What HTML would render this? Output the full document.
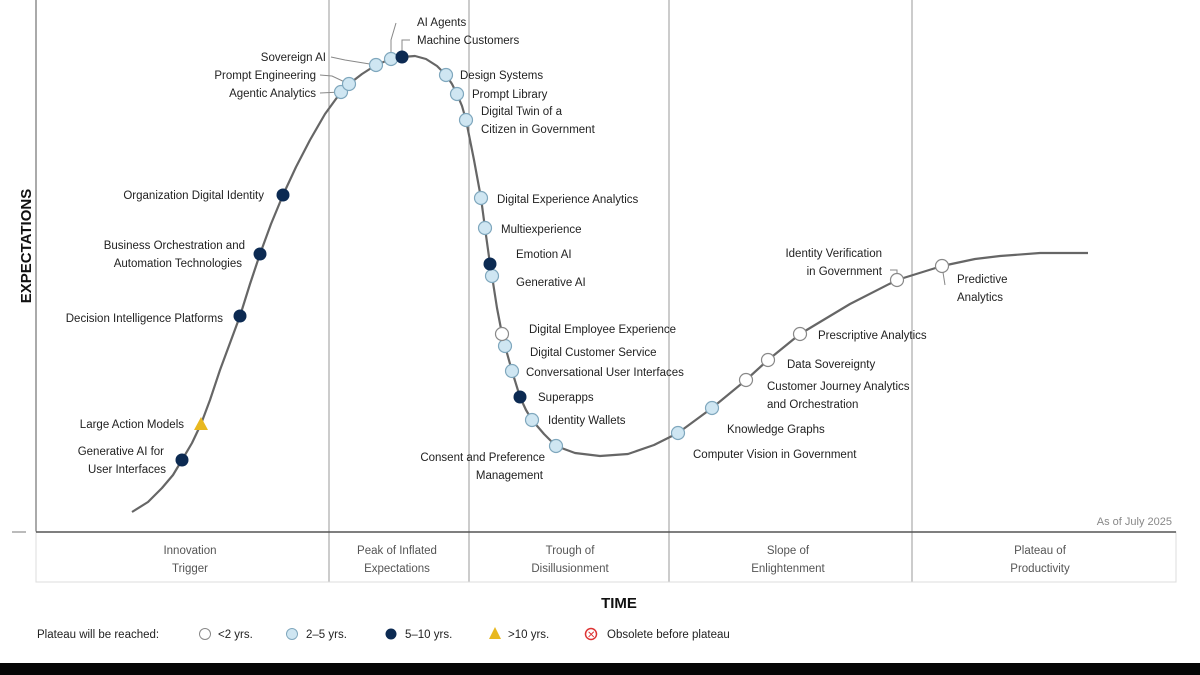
<!DOCTYPE html><html><head><style>body{margin:0;background:#fff}svg{display:block}text{font-family:"Liberation Sans",sans-serif;font-size:11.5px;fill:#222}</style></head><body>
<svg width="1200" height="675" viewBox="0 0 1200 675">
<rect width="1200" height="675" fill="#fff"/>
<g stroke="#999" stroke-width="1">
<line x1="329" y1="0" x2="329" y2="582"/><line x1="469" y1="0" x2="469" y2="582"/><line x1="669" y1="0" x2="669" y2="582"/><line x1="912" y1="0" x2="912" y2="582"/>
<line x1="36" y1="0" x2="36" y2="532" stroke="#555"/>
<rect x="36" y="532" width="1140" height="50" fill="none" stroke="#ddd"/>
<line x1="12" y1="532" x2="26" y2="532" stroke="#777"/>
</g>
<line x1="36" y1="532" x2="1176" y2="532" stroke="#555" stroke-width="1.5"/>
<text x="1172" y="525" text-anchor="end" fill="#888" style="font-size:11px;fill:#888">As of July 2025</text>
<g text-anchor="middle" style="font-size:13px">
<text x="190" y="554" style="fill:#555">Innovation</text><text x="190" y="572" style="fill:#555">Trigger</text>
<text x="397" y="554" style="fill:#555">Peak of Inflated</text><text x="397" y="572" style="fill:#555">Expectations</text>
<text x="570" y="554" style="fill:#555">Trough of</text><text x="570" y="572" style="fill:#555">Disillusionment</text>
<text x="788" y="554" style="fill:#555">Slope of</text><text x="788" y="572" style="fill:#555">Enlightenment</text>
<text x="1040" y="554" style="fill:#555">Plateau of</text><text x="1040" y="572" style="fill:#555">Productivity</text>
</g>
<text x="619" y="608" text-anchor="middle" style="font-size:15px;font-weight:bold;fill:#111">TIME</text>
<text transform="translate(31,246) rotate(-90)" text-anchor="middle" style="font-size:15px;font-weight:bold;fill:#111">EXPECTATIONS</text>
<polyline fill="none" stroke="#666" stroke-width="2.2" stroke-linejoin="round" points="132,512 148,502 162,488 173,475 182,460 192,443 201,424 210,400 220,370 230,343 240,316 250,284 260,254 271,224 283,195 296,167 310,140 325,114 341,92 349,84 362,74 376,65 391,59 402,57 415,56 426,59 437,66 446,75 452,84 457,94 462,106 466,120 474,160 481,198 485,228 490,264 492,276 497,308 502,334 505,346 512,371 520,397 526,410 532,420 544,434 556,446 575,453 600,456 628,454 654,445 678,433 712,408 746,380 768,360 800,334 850,304 897,280 942,266 975,259 1000,256 1040,253 1088,253"/>
<g stroke="#888" stroke-width="1" fill="none">
<polyline points="331,57 345,60 376,65"/><polyline points="320,75 332,76 349,84"/><polyline points="320,93 341,92"/>
<polyline points="396,23 391,40 391,59"/><polyline points="410,40 402,40 402,57"/>
<polyline points="890,270 897,270 897,280"/><polyline points="945,285 942,266"/>
</g>
<g stroke="#7fa7bd" stroke-width="1.2" fill="#cfe6f2">
<circle cx="341" cy="92" r="6.5"/><circle cx="349" cy="84" r="6.5"/><circle cx="376" cy="65" r="6.5"/><circle cx="391" cy="59" r="6.5"/>
<circle cx="446" cy="75" r="6.5"/><circle cx="457" cy="94" r="6.5"/><circle cx="466" cy="120" r="6.5"/><circle cx="481" cy="198" r="6.5"/><circle cx="485" cy="228" r="6.5"/><circle cx="492" cy="276" r="6.5"/><circle cx="505" cy="346" r="6.5"/><circle cx="512" cy="371" r="6.5"/><circle cx="532" cy="420" r="6.5"/><circle cx="556" cy="446" r="6.5"/><circle cx="678" cy="433" r="6.5"/><circle cx="712" cy="408" r="6.5"/>
</g>
<g fill="#0c2a52">
<circle cx="402" cy="57" r="6.5"/><circle cx="283" cy="195" r="6.5"/><circle cx="260" cy="254" r="6.5"/><circle cx="240" cy="316" r="6.5"/><circle cx="182" cy="460" r="6.5"/><circle cx="490" cy="264" r="6.5"/><circle cx="520" cy="397" r="6.5"/>
</g>
<g fill="#fff" stroke="#888" stroke-width="1.2">
<circle cx="502" cy="334" r="6.5"/><circle cx="746" cy="380" r="6.5"/><circle cx="768" cy="360" r="6.5"/><circle cx="800" cy="334" r="6.5"/><circle cx="897" cy="280" r="6.5"/><circle cx="942" cy="266" r="6.5"/>
</g>
<polygon points="201,417 208,430 194,430" fill="#e8b820"/>
<g text-anchor="end">
<text x="326" y="61">Sovereign AI</text><text x="316" y="79">Prompt Engineering</text><text x="316" y="97">Agentic Analytics</text>
<text x="264" y="199">Organization Digital Identity</text>
<text x="245" y="249">Business Orchestration and</text><text x="242" y="267">Automation Technologies</text>
<text x="223" y="322">Decision Intelligence Platforms</text>
<text x="184" y="428">Large Action Models</text>
<text x="164" y="455">Generative AI for</text><text x="166" y="473">User Interfaces</text>
<text x="545" y="461">Consent and Preference</text><text x="543" y="479">Management</text>
<text x="882" y="257">Identity Verification</text><text x="882" y="275">in Government</text>
</g>
<text x="417" y="26">AI Agents</text><text x="417" y="44">Machine Customers</text>
<text x="460" y="79">Design Systems</text><text x="472" y="98">Prompt Library</text>
<text x="481" y="115">Digital Twin of a</text><text x="481" y="133">Citizen in Government</text>
<text x="497" y="203">Digital Experience Analytics</text><text x="501" y="233">Multiexperience</text>
<text x="516" y="258">Emotion AI</text><text x="516" y="286">Generative AI</text>
<text x="529" y="333">Digital Employee Experience</text><text x="530" y="356">Digital Customer Service</text>
<text x="526" y="376">Conversational User Interfaces</text><text x="538" y="401">Superapps</text>
<text x="548" y="424">Identity Wallets</text>
<text x="693" y="458">Computer Vision in Government</text><text x="727" y="433">Knowledge Graphs</text>
<text x="767" y="390">Customer Journey Analytics</text><text x="767" y="408">and Orchestration</text>
<text x="787" y="368">Data Sovereignty</text><text x="818" y="339">Prescriptive Analytics</text>
<text x="957" y="283">Predictive</text><text x="957" y="301">Analytics</text>
<g style="font-size:12px">
<text x="37" y="638">Plateau will be reached:</text>
<circle cx="205" cy="634" r="5.5" fill="#fff" stroke="#888"/><text x="218" y="638">&lt;2 yrs.</text>
<circle cx="292" cy="634" r="5.5" fill="#cfe6f2" stroke="#7fa7bd"/><text x="306" y="638">2–5 yrs.</text>
<circle cx="391" cy="634" r="5.5" fill="#0c2a52"/><text x="405" y="638">5–10 yrs.</text>
<polygon points="495,627 501,639 489,639" fill="#e8b820"/><text x="508" y="638">&gt;10 yrs.</text>
<circle cx="591" cy="634" r="5.5" fill="#fff" stroke="#d33" stroke-width="1.5"/><text x="587" y="638" style="font-size:10px;fill:#d33">✕</text><text x="607" y="638">Obsolete before plateau</text>
</g>
<rect x="0" y="663" width="1200" height="12" fill="#050505"/>
</svg></body></html>
